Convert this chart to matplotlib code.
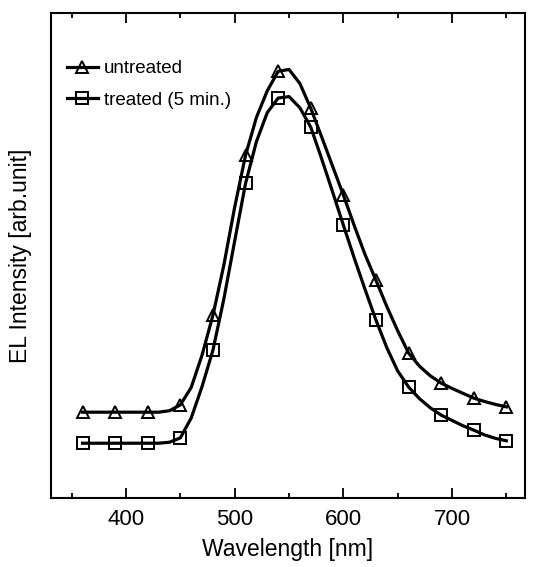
import matplotlib
matplotlib.use("Agg")
import matplotlib.pyplot as plt
from matplotlib.ticker import MultipleLocator

plt.rcParams['font.family'] = ['Liberation Sans', 'DejaVu Sans']

# wavelength grid (nm), 10 nm steps
wavelength = [360, 370, 380, 390, 400, 410, 420, 430, 440, 450,
              460, 470, 480, 490, 500, 510, 520, 530, 540, 550,
              560, 570, 580, 590, 600, 610, 620, 630, 640, 650,
              660, 670, 680, 690, 700, 710, 720, 730, 740, 750]

untreated = [0.177, 0.177, 0.177, 0.177, 0.177, 0.177, 0.177, 0.177, 0.180, 0.192,
             0.228, 0.295, 0.377, 0.480, 0.600, 0.707, 0.785, 0.840, 0.880, 0.884,
             0.855, 0.804, 0.745, 0.685, 0.625, 0.562, 0.502, 0.449, 0.395, 0.345,
             0.299, 0.272, 0.252, 0.237, 0.226, 0.216, 0.206, 0.199, 0.193, 0.188]

treated = [0.113, 0.113, 0.113, 0.113, 0.113, 0.113, 0.113, 0.113, 0.115, 0.124,
           0.165, 0.230, 0.305, 0.410, 0.530, 0.649, 0.735, 0.795, 0.825, 0.828,
           0.805, 0.765, 0.700, 0.632, 0.563, 0.495, 0.430, 0.367, 0.310, 0.262,
           0.229, 0.205, 0.186, 0.171, 0.160, 0.149, 0.140, 0.130, 0.123, 0.118]

fig = plt.figure(figsize=(5.33, 5.67), dpi=100)
ax = fig.add_axes([0.0957, 0.1217, 0.889, 0.855])

ax.plot(wavelength, untreated, color='black', lw=2.3, marker='^', markersize=9,
        markerfacecolor='none', markeredgewidth=1.4, markevery=3, label='untreated')
ax.plot(wavelength, treated, color='black', lw=2.3, marker='s', markersize=9,
        markerfacecolor='none', markeredgewidth=1.4, markevery=3, label='treated (5 min.)')

ax.set_xlim(331, 767)
ax.set_ylim(0, 1)
ax.xaxis.set_major_locator(MultipleLocator(100))
ax.xaxis.set_minor_locator(MultipleLocator(50))
ax.tick_params(axis='x', which='major', direction='in', length=7, width=1.3,
               top=True, labelsize=16, pad=8)
ax.tick_params(axis='x', which='minor', direction='in', length=3.5, width=1.3, top=True)
ax.set_yticks([])
for s in ax.spines.values():
    s.set_linewidth(1.5)

ax.set_xlabel('Wavelength [nm]', fontsize=16.5, labelpad=6)
ax.set_ylabel('EL Intensity [arb.unit]', fontsize=16.5, labelpad=14)

ax.legend(loc='upper left', bbox_to_anchor=(0.005, 0.93), frameon=False, fontsize=13.5,
          handlelength=1.7, handletextpad=0.3, labelspacing=0.75, borderaxespad=0.3)

fig.savefig('out.png', dpi=100)
